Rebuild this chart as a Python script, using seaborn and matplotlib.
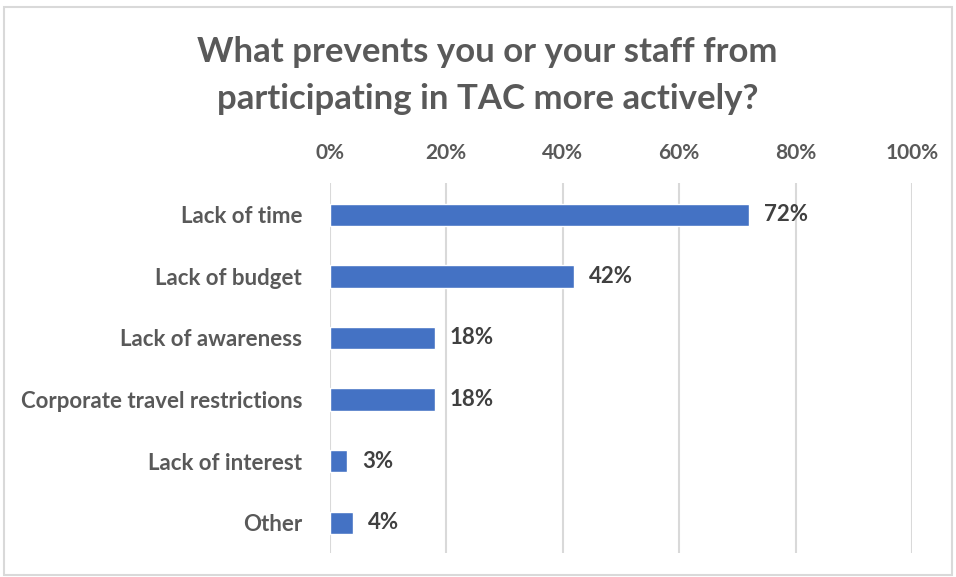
import pandas as pd
import matplotlib
matplotlib.use("Agg")
import matplotlib.pyplot as plt
import seaborn as sns
from matplotlib.patches import Rectangle

# Data
reasons = ["Lack of time", "Lack of budget", "Lack of awareness",
           "Corporate travel restrictions", "Lack of interest", "Other"]
shares = [72, 42, 18, 18, 3, 4]
tick_vals = [0, 20, 40, 60, 80, 100]
tick_labels = ["0%", "20%", "40%", "60%", "80%", "100%"]

df = pd.DataFrame({"reason": reasons, "share": shares})

sns.set_theme(style="white")
plt.rcParams["font.family"] = ["Lato", "DejaVu Sans"]

fig = plt.figure(figsize=(9.56, 5.77), dpi=100)
ax = fig.add_axes([0.345, 0.042, 0.609, 0.641])

sns.barplot(data=df, x="share", y="reason", color="#4472C4", width=0.36,
            saturation=1, ax=ax, zorder=3)

ax.set_xlim(0, 100)
ax.set_ylim(5.49, -0.52)
ax.set_xticks(tick_vals)
ax.set_xticklabels(tick_labels)
ax.xaxis.tick_top()
ax.tick_params(axis="x", length=0, pad=14, labelsize=15, colors="#595959")
ax.tick_params(axis="y", length=0, pad=20, labelsize=16, colors="#595959")
for lab in ax.get_xticklabels() + ax.get_yticklabels():
    lab.set_fontweight("bold")
ax.set_xlabel("")
ax.set_ylabel("")
ax.grid(axis="x", color="#D9D9D9", linewidth=1.5, zorder=0)
ax.grid(axis="y", visible=False)
for s in ax.spines.values():
    s.set_visible(False)

for i, v in enumerate(shares):
    ax.text(v + 2.5, i, f"{v}%", va="center", ha="left", fontsize=16,
            fontweight="bold", color="#404040")

fig.text(0.51, 0.869, "What prevents you or your staff from\nparticipating in TAC more actively?",
         ha="center", va="center", fontsize=25, fontweight="bold",
         color="#595959", linespacing=1.6)

fig.patches.append(Rectangle((0.004, 0.004), 0.992, 0.984, transform=fig.transFigure,
                             fill=False, edgecolor="#D9D9D9", linewidth=1.5))

fig.savefig("out.png", dpi=100)
